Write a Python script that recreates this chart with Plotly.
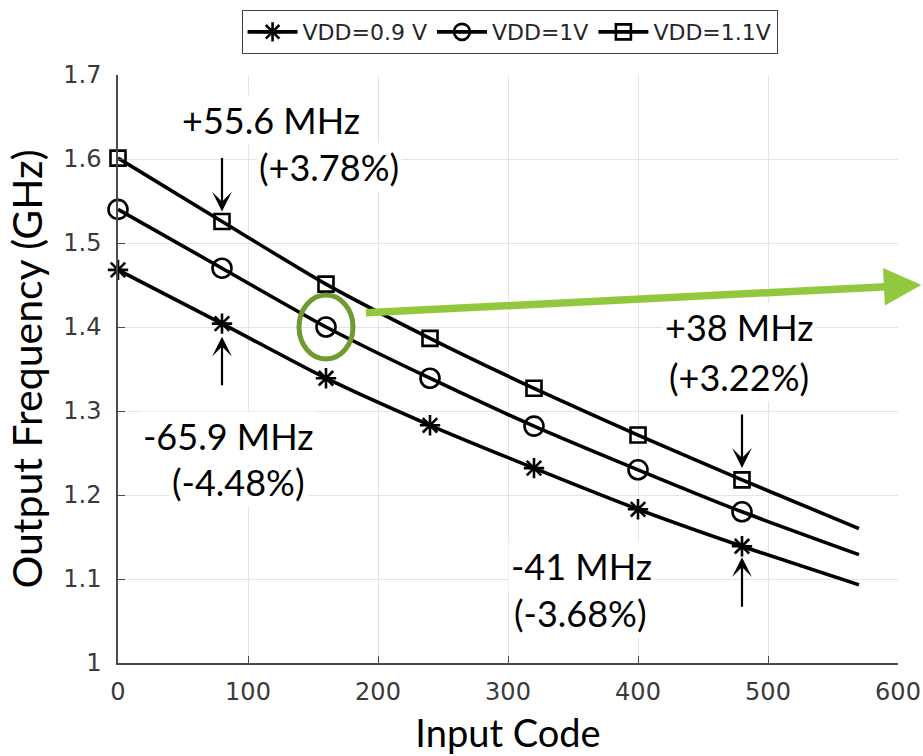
import plotly.graph_objects as go

# Input codes where the frequency was measured, plus the end of the fitted curve
codes = [0, 80, 160, 240, 320, 400, 480]
curve_end = 570

# Output frequency (GHz) per supply voltage
f_vdd_09 = [1.468, 1.404, 1.339, 1.283, 1.232, 1.183, 1.139]
f_vdd_10 = [1.540, 1.470, 1.400, 1.339, 1.282, 1.230, 1.180]
f_vdd_11 = [1.601, 1.5256, 1.451, 1.3865, 1.327, 1.2714, 1.218]

# Curve values at the end of the fitted range
end_vdd_09 = 1.093
end_vdd_10 = 1.129
end_vdd_11 = 1.160

series = [
    ("VDD=0.9 V", f_vdd_09, end_vdd_09, "asterisk-open", 17),
    ("VDD=1V", f_vdd_10, end_vdd_10, "circle-open", 19),
    ("VDD=1.1V", f_vdd_11, end_vdd_11, "square-open", 15),
]

TEXT_FONT = "Lato, 'Open Sans', sans-serif"
TICK_FONT = "DejaVu Sans, sans-serif"

fig = go.Figure()
for name, vals, end_val, symbol, size in series:
    xs = codes + [curve_end]
    ys = vals + [end_val]
    colors = ["black"] * len(codes) + ["rgba(0,0,0,0)"]
    fig.add_trace(go.Scatter(
        x=xs, y=ys, name=name, mode="lines+markers", cliponaxis=False,
        line=dict(color="black", width=3.6, shape="spline", smoothing=0.6),
        marker=dict(symbol=symbol, size=size, color=colors,
                    line=dict(width=2.6)),
    ))

# Text callouts (white boxes) for the deviations at codes 80 and 480
labels = [
    ("+55.6 MHz", 117.5, 1.646),
    ("(+3.78%)", 162.0, 1.590),
    ("-65.9 MHz", 85.0, 1.270),
    ("(-4.48%)", 92.5, 1.215),
    ("+38 MHz", 478.0, 1.400),
    ("(+3.22%)", 478.0, 1.340),
    ("-41 MHz", 356.5, 1.115),
    ("(-3.68%)", 356.0, 1.060),
]
annotations = []
for text, x, y in labels:
    annotations.append(dict(
        x=x, y=y, xref="x", yref="y", text=text, showarrow=False,
        font=dict(family=TEXT_FONT, size=36, color="black"),
        bgcolor="white", borderpad=2,
    ))

# Black arrows pointing at the measured markers
arrow_specs = [
    (codes[1], f_vdd_11[1], -65, 10),
    (codes[1], f_vdd_09[1], 63, 13),
    (codes[6], f_vdd_11[6], -67, 12),
    (codes[6], f_vdd_09[6], 62, 11),
]
for x, y, ay, standoff in arrow_specs:
    annotations.append(dict(
        x=x, y=y, xref="x", yref="y", ax=0, ay=ay, text="",
        showarrow=True, arrowhead=3, arrowsize=1.5, arrowwidth=2.2,
        arrowcolor="black", standoff=standoff,
    ))

# Green arrow leading out of the highlighted point
annotations.append(dict(
    x=1.030, y=0.643, xref="paper", yref="paper", ax=-557, ay=28,
    text="", showarrow=True, arrowhead=2, arrowsize=1, arrowwidth=7.5,
    arrowcolor="#92C83E",
))

# Green ring around the VDD=1V point at code 160
shapes = [dict(
    type="circle", xref="x", yref="y", xsizemode="pixel", ysizemode="pixel",
    xanchor=codes[2], yanchor=f_vdd_10[2], x0=-27, x1=27, y0=-32, y1=32,
    line=dict(color="#6F9A2F", width=5),
)]

axis_common = dict(
    showgrid=True, gridcolor="#e4e4e4", gridwidth=1,
    showline=True, linecolor="#4a4a4a", linewidth=1.5,
    ticks="inside", ticklen=7, tickcolor="#4a4a4a",
    tickfont=dict(family=TICK_FONT, size=24, color="#3a3a3a"),
    zeroline=False, automargin=False,
)

fig.update_layout(
    width=923, height=756,
    margin=dict(l=118, r=25, t=75, b=93, autoexpand=False),
    paper_bgcolor="white", plot_bgcolor="white",
    xaxis=dict(range=[0, 600], dtick=100, tick0=0,
               title=dict(text="Input Code", standoff=16,
                          font=dict(family=TEXT_FONT, size=38, color="black")),
               ticklabelstandoff=6,
               **axis_common),
    yaxis=dict(range=[1, 1.7], dtick=0.1, tick0=1,
               title=dict(text="Output Frequency (GHz)", standoff=8,
                          font=dict(family=TEXT_FONT, size=41, color="black")),
               ticklabelstandoff=10,
               **axis_common),
    legend=dict(
        orientation="h", x=0.502, xanchor="center", y=1.1105, yanchor="top",
        bgcolor="white", bordercolor="#404040", borderwidth=1,
        font=dict(family=TICK_FONT, size=22, color="#262626"),
        itemwidth=50, tracegroupgap=0,
    ),
    annotations=annotations,
    shapes=shapes,
)

fig.write_html("out.html")
